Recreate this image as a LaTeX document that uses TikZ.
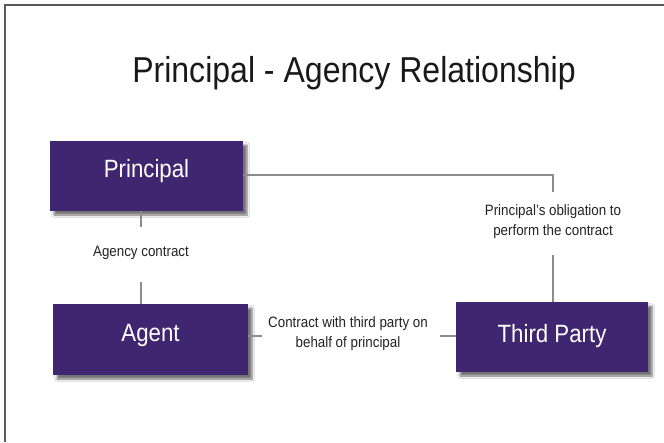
\documentclass[tikz,border=0pt]{standalone}
\usepackage{fontspec}
\setmainfont{Liberation Sans}[FakeStretch=0.89]
\usetikzlibrary{shadows.blur}
\definecolor{boxpurple}{RGB}{64,38,112}
\definecolor{linegray}{RGB}{140,140,140}
\definecolor{textdark}{RGB}{35,35,35}
\begin{document}
\begin{tikzpicture}[x=1pt,y=-1pt,
  pbox/.style={rectangle, fill=boxpurple, draw=none, text=white,
    font=\fontsize{25}{30}\selectfont, inner sep=0pt, text height=18pt, text depth=16pt,
    blur shadow={shadow xshift=4pt, shadow yshift=-4pt, shadow blur steps=6, shadow opacity=55}},
  lbl/.style={text=textdark, align=center, font=\fontsize{15}{20}\selectfont, inner sep=0pt},
  conn/.style={draw=linegray, line width=1.1pt}]
\useasboundingbox (0,0) rectangle (664,442);
\fill[white] (0,0) rectangle (664,442);
\draw[line width=1.5pt, draw=black!65] (5,442) -- (5,5) -- (664,5);

\node[text=black!90, font=\fontsize{36}{42}\selectfont, anchor=base, inner sep=0pt] (title) at (354,82) {Principal - Agency Relationship};

\node[pbox, minimum width=193pt, minimum height=70pt] (P) at (146.5,176) {Principal};
\node[pbox, minimum width=195pt, minimum height=71pt, text depth=14pt] (A) at (150.5,339.5) {Agent};
\node[pbox, minimum width=192pt, minimum height=70pt, text height=19pt, text depth=9pt] (T) at (552,337) {Third Party};

\node[lbl, anchor=base] (agc) at (141,256.7) {Agency contract};
\node[lbl] (obl) at (553,222) {Principal's obligation to\\perform the contract};
\node[lbl] (ctp) at (348,334) {Contract with third party on\\behalf of principal};

\coordinate (a1) at (141,227);
\coordinate (a2) at (141,282);
\coordinate (o1) at (553,192);
\coordinate (o2) at (553,255);
\coordinate (c1) at (262,336);
\coordinate (c2) at (440,336);

\draw[conn] (P.south -| a1) -- (a1);
\draw[conn] (a2) -- (A.north -| a2);
\draw[conn] (P.east |- 0,175) -| (o1);
\draw[conn] (o2) -- (T.north -| o2);
\draw[conn] (A.east |- c1) -- (c1);
\draw[conn] (c2) -- (T.west |- c2);
\end{tikzpicture}
\end{document}
